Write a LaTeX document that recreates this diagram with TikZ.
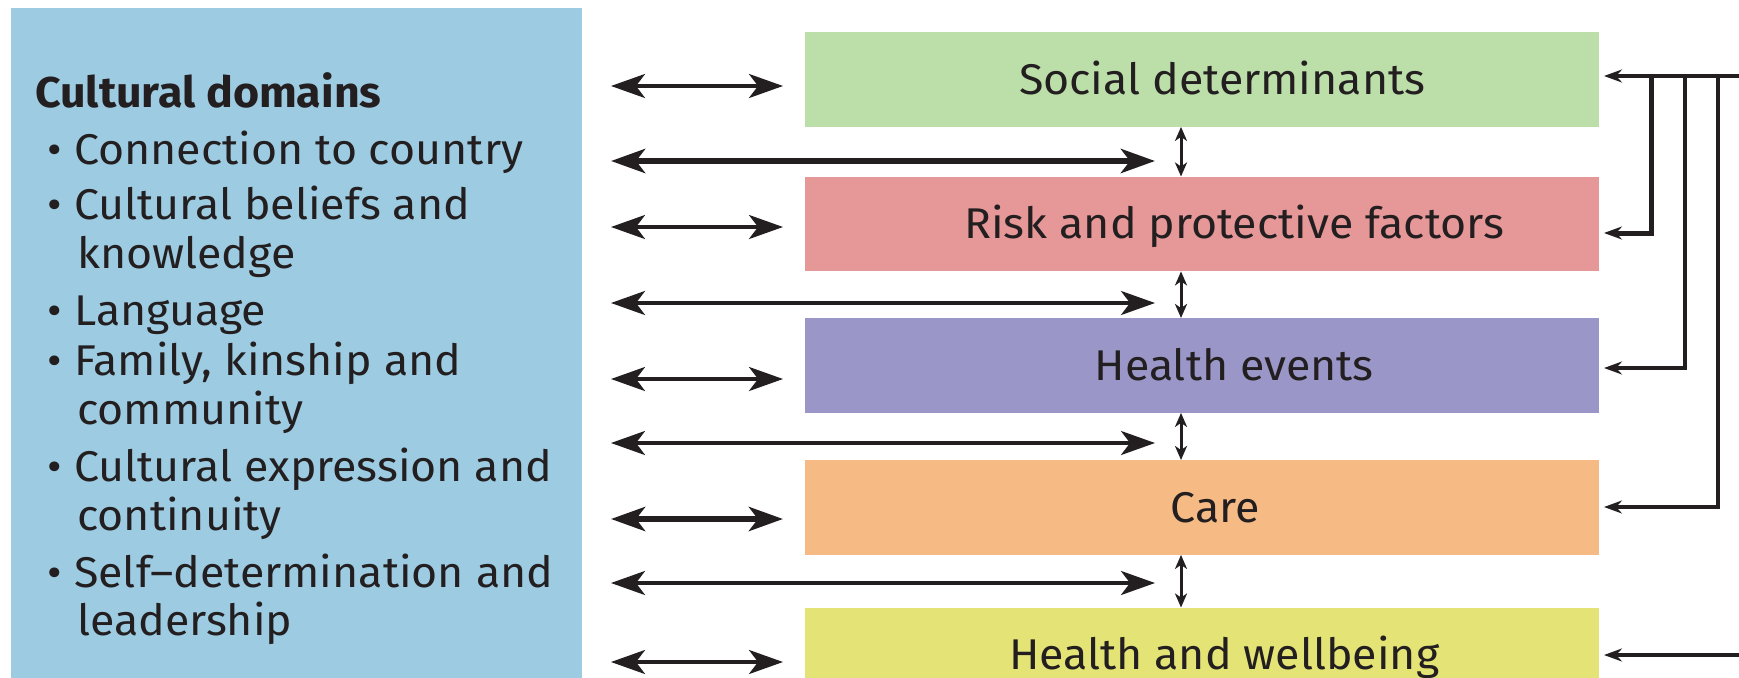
\documentclass[tikz,border=0pt]{standalone}
\usepackage{fontspec}
\setmainfont{Fira Sans}[FakeStretch=1.04]
\usetikzlibrary{arrows.meta}

\definecolor{panelblue}{HTML}{9DCBE1}
\definecolor{boxgreen}{HTML}{BCDFAA}
\definecolor{boxred}{HTML}{E69797}
\definecolor{boxpurple}{HTML}{9A97C8}
\definecolor{boxorange}{HTML}{F6BA85}
\definecolor{boxyellow}{HTML}{E4E375}
\definecolor{ink}{HTML}{231F20}

\tikzset{
  txt/.style={inner sep=0pt, text=ink, font=\fontsize{43}{50}\selectfont},
  stagebox/.style={minimum width=794pt, minimum height=94.5pt, inner sep=0pt,
    anchor=north west, draw=none},
  bigarrow/.style={draw=ink, line width=3.5pt,
    {Stealth[length=34pt,width=24pt,inset=9pt]}-{Stealth[length=34pt,width=24pt,inset=9pt]}},
  boldarrow/.style={bigarrow, line width=6pt},
  linkarrow/.style={draw=ink, line width=3pt,
    {Stealth[length=14pt,width=12pt,inset=4pt]}-{Stealth[length=14pt,width=12pt,inset=4pt]}},
  feedback/.style={draw=ink, line width=3.5pt,
    -{Stealth[length=18pt,width=13pt,inset=6pt]}},
}

\begin{document}
\begin{tikzpicture}[x=1pt, y=-1pt]
\useasboundingbox (0,0) rectangle (1739,677);

% left panel with the list of cultural domains
\node[fill=panelblue, minimum width=571pt, minimum height=690pt, inner sep=0pt,
  anchor=north west] (panel) at (11,8) {};

\node[txt, anchor=base west] (head) at (35,107) {\bfseries Cultural domains};

\node[txt, anchor=base] (d1) at (55,164) {•};
\node[txt, anchor=base west] (i1) at (74,164) {Connection to country};
\node[txt, anchor=base] (d2) at (55,219) {•};
\node[txt, anchor=base west] (i2a) at (74,219) {Cultural beliefs and};
\node[txt, anchor=base west] (i2b) at (77,268) {knowledge};
\node[txt, anchor=base] (d3) at (55,325) {•};
\node[txt, anchor=base west] (i3) at (74,325) {Language};
\node[txt, anchor=base] (d4) at (55,375) {•};
\node[txt, anchor=base west] (i4a) at (74,375) {Family, kinship and};
\node[txt, anchor=base west] (i4b) at (77,424) {community};
\node[txt, anchor=base] (d5) at (55,481) {•};
\node[txt, anchor=base west] (i5a) at (74,481) {Cultural expression and};
\node[txt, anchor=base west] (i5b) at (77,530) {continuity};
\node[txt, anchor=base] (d6) at (55,587) {•};
\node[txt, anchor=base west] (i6a) at (74,587) {Self–determination and};
\node[txt, anchor=base west] (i6b) at (77,635) {leadership};

% stage boxes
\node[stagebox, fill=boxgreen]  (sd) at (805,32)    {};
\node[stagebox, fill=boxred]    (rp) at (805,176.5) {};
\node[stagebox, fill=boxpurple] (he) at (805,318)   {};
\node[stagebox, fill=boxorange] (ca) at (805,460)   {};
\node[stagebox, fill=boxyellow] (hw) at (805,607.5) {};

\node[txt, anchor=base] (sdt) at ([shift={(20pt,-15pt)}]sd.center) {Social determinants};
\node[txt, anchor=base] (rpt) at ([shift={(32pt,-15pt)}]rp.center) {Risk and protective factors};
\node[txt, anchor=base] (het) at ([shift={(32pt,-15pt)}]he.center) {Health events};
\node[txt, anchor=base] (cat) at ([shift={(13pt,-15pt)}]ca.center) {Care};
\node[txt, anchor=base] (hwt) at ([shift={(22pt,-15pt)}]hw.center) {Health and wellbeing};

% end points of the two-way arrows between panel and stages
\coordinate (la) at (611,0);
\coordinate (ls) at (783,0);
\coordinate (ll) at (1155,0);
\coordinate (vx) at (1181,0);

\draw[bigarrow]  (la |- 0,86)  coordinate (a1l) -- (ls |- 0,86)  coordinate (a1r);
\draw[boldarrow] (la |- 0,161) coordinate (b1l) -- (ll |- 0,161) coordinate (b1r);
\draw[bigarrow]  (la |- 0,227) coordinate (a2l) -- (ls |- 0,227) coordinate (a2r);
\draw[bigarrow]  (la |- 0,303) coordinate (b2l) -- (ll |- 0,303) coordinate (b2r);
\draw[bigarrow]  (la |- 0,379) coordinate (a3l) -- (ls |- 0,379) coordinate (a3r);
\draw[bigarrow]  (la |- 0,443) coordinate (b3l) -- (ll |- 0,443) coordinate (b3r);
\draw[boldarrow] (la |- 0,519) coordinate (a4l) -- (ls |- 0,519) coordinate (a4r);
\draw[bigarrow]  (la |- 0,583) coordinate (b4l) -- (ll |- 0,583) coordinate (b4r);
\draw[bigarrow]  (la |- 0,662) coordinate (a5l) -- (ls |- 0,662) coordinate (a5r);

% two-way links between consecutive stages
\draw[linkarrow] (sd.south -| vx) -- (rp.north -| vx);
\draw[linkarrow] (rp.south -| vx) -- (he.north -| vx);
\draw[linkarrow] (he.south -| vx) -- (ca.north -| vx);
\draw[linkarrow] (ca.south -| vx) -- (hw.north -| vx);

% feedback lines on the right
\coordinate (tipx) at (1604,0);
\coordinate (topin) at (1750,76);
\coordinate (botin) at (1750,655);
\coordinate (br1) at (1651,76);
\coordinate (br2) at (1685,76);
\coordinate (br3) at (1718,76);

\draw[feedback] (topin) -- (tipx |- topin);
\draw[feedback, line width=5pt] (br1) |- (tipx |- 0,233);
\draw[feedback] (br2) |- (tipx |- 0,368);
\draw[feedback] (br3) |- (tipx |- 0,507);
\draw[feedback] (botin) -- (tipx |- botin);
\end{tikzpicture}
\end{document}
